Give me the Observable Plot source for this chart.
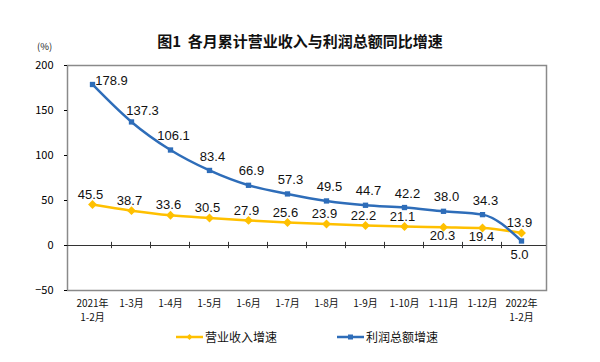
<!DOCTYPE html>
<html><head><meta charset="utf-8">
<script src="https://cdn.jsdelivr.net/npm/d3@7"></script>
<script src="https://cdn.jsdelivr.net/npm/@observablehq/plot@0.6"></script>
<style>
body{margin:0;background:#fff;font-family:"Noto Sans CJK SC",sans-serif;}
#wrap{position:relative;width:600px;height:362px;}
#title{position:absolute;top:30px;left:0;width:600px;text-align:center;font-size:15px;font-weight:bold;color:#111;white-space:pre;}
#unit{position:absolute;top:41px;left:37px;font-size:9.5px;line-height:11px;color:#222;}
#legend{position:absolute;top:328px;left:176px;font-size:12px;color:#111;display:flex;align-items:center;}
.item{display:flex;align-items:center;}
.item svg{margin-right:2px;}
</style></head>
<body><div id="wrap">
<div id="title">图1  各月累计营业收入与利润总额同比增速</div>
<div id="unit">(%)</div>
<div id="chart"></div>
<div id="legend">
<div class="item" style="width:161px"><svg width="27" height="10"><line x1="0" y1="5" x2="27" y2="5" stroke="#FFC000" stroke-width="2.5"/><path d="M13.5 2 L16.5 5 L13.5 8 L10.5 5Z" fill="#FFC000"/></svg>营业收入增速</div>
<div class="item"><svg width="27" height="10"><line x1="0" y1="5" x2="27" y2="5" stroke="#2E6DB9" stroke-width="2.5"/><rect x="11" y="2.5" width="5" height="5" fill="#2E6DB9"/></svg>利润总额增速</div>
</div>
</div>
<script>
const categories = ["2021年\n1-2月","1-3月","1-4月","1-5月","1-6月","1-7月","1-8月","1-9月","1-10月","1-11月","1-12月","2022年\n1-2月"];
const revenue = [45.5,38.7,33.6,30.5,27.9,25.6,23.9,22.2,21.1,20.3,19.4,13.9];
const profit = [178.9,137.3,106.1,83.4,66.9,57.3,49.5,44.7,42.2,38.0,34.3,5.0];
const yTicks = [-50,0,50,100,150,200];
const revBelow = ["1-11月","1-12月"];
const profBelow = ["2022年\n1-2月"];

const YEL = "#FFC000", BLU = "#2E6DB9";
const rev = categories.map((c,i)=>({c, v:revenue[i]}));
const prof = categories.map((c,i)=>({c, v:profit[i]}));
const fmt = d => d.v.toFixed(1);
const numFont = "Liberation Sans, Arial, sans-serif";

const chart = Plot.plot({
  width:600, height:362,
  marginLeft:67, marginRight:54, marginTop:65, marginBottom:72,
  style:{fontFamily:"Noto Sans CJK SC, sans-serif", background:"transparent"},
  x:{type:"point", domain:categories, padding:0.5, label:null, axis:null},
  y:{domain:[-50,200], label:null},
  marks:[
    Plot.frame({stroke:"#8a8a8a", strokeWidth:1.5}),
    Plot.ruleY([0], {stroke:"#333"}),
    Plot.ruleX(categories.slice(1), {y1:-3.5, y2:3.5, dx:-20, stroke:"#333"}),
    Plot.axisY({ticks:yTicks, tickSize:3, tickPadding:11, fontSize:11, label:null}),
    Plot.text(categories, {x:d=>d, frameAnchor:"bottom", lineAnchor:"top", dy:7, fontSize:10, lineHeight:1.4, fill:"#111"}),
    Plot.line(rev, {x:"c", y:"v", stroke:YEL, strokeWidth:2.5, curve:"monotone-x"}),
    Plot.dot(rev, {x:"c", y:"v", symbol:"diamond2", r:4, fill:YEL}),
    Plot.line(prof, {x:"c", y:"v", stroke:BLU, strokeWidth:2.5, curve:"monotone-x"}),
    Plot.dot(prof, {x:"c", y:"v", symbol:"square", r:3, fill:BLU}),
    Plot.text(rev.filter(d=>!revBelow.includes(d.c)), {x:"c", y:"v", text:fmt, dy:-10, dx:-2, fontSize:13, fontFamily:numFont, fill:"#111"}),
    Plot.text(rev.filter(d=>revBelow.includes(d.c)), {x:"c", y:"v", text:fmt, dy:9, dx:-1, fontSize:13, fontFamily:numFont, fill:"#111"}),
    Plot.text(prof.slice(0,1), {x:"c", y:"v", text:fmt, dy:-4, dx:19, fontSize:13, fontFamily:numFont, fill:"#111"}),
    Plot.text(prof.slice(1,2), {x:"c", y:"v", text:fmt, dy:-11, dx:11, fontSize:13, fontFamily:numFont, fill:"#111"}),
    Plot.text(prof.slice(2).filter(d=>!profBelow.includes(d.c)), {x:"c", y:"v", text:fmt, dy:-14, dx:3, fontSize:13, fontFamily:numFont, fill:"#111"}),
    Plot.text(prof.filter(d=>profBelow.includes(d.c)), {x:"c", y:"v", text:fmt, dy:14, dx:-2, fontSize:13, fontFamily:numFont, fill:"#111"})
  ]
});
document.getElementById("chart").appendChild(chart);
</script>
</body></html>
